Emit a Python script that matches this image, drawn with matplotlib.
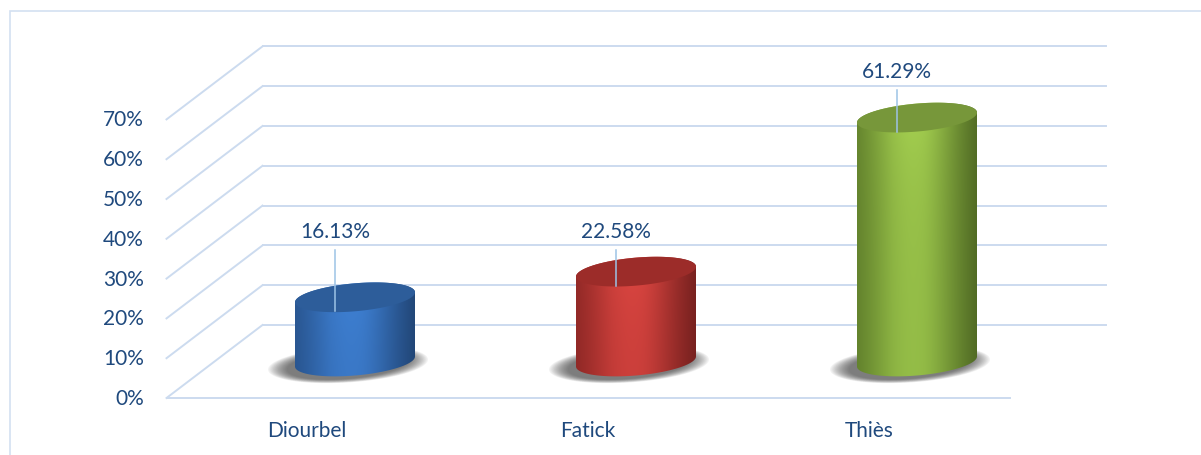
import numpy as np
import matplotlib.pyplot as plt
from matplotlib.patches import Polygon, Rectangle
from matplotlib.colors import to_rgb

plt.rcParams['font.family'] = ['Lato', 'DejaVu Sans']

categories = ['Diourbel', 'Fatick', 'Thiès']
values = [16.13, 22.58, 61.29]
value_labels = ['16.13%', '22.58%', '61.29%']
tick_values = [0, 10, 20, 30, 40, 50, 60, 70]
tick_labels = ['0%', '10%', '20%', '30%', '40%', '50%', '60%', '70%']

# shading per cylinder: (edge, highlight, top)
bar_colors = [
    ('#28548F', '#3F82D6', '#2D5D9A'),
    ('#8E2624', '#DE4742', '#9C2C29'),
    ('#5F7F2A', '#A8D452', '#77973A'),
]

text_color = '#1F497D'
grid_color = '#CCDBEF'
leader_color = '#9DC3E6'

# pixel scale of the plot: one category step and one percent
PX_CAT = 281.0
PX_PCT = 3.98
W, H = 1201, 456

# oblique depth offset of the back wall
DX = 96 / PX_CAT
DY = 73 / PX_PCT

# cylinder ellipse semi-axes and perspective tilt
EA = 60 / PX_CAT
EB = 14 / PX_PCT
ES = 5 / PX_PCT

fig = plt.figure(figsize=(W / 100, H / 100), dpi=100)
ax = fig.add_axes([0, 0, 1, 1])
ax.axis('off')

# chart area border
fig.patches.append(Rectangle((10 / W, -0.1), 1.2, (H - 12) / H + 0.1,
                             transform=fig.transFigure, fill=False,
                             edgecolor='#D3E0F1', lw=1.2))

n = len(categories)
x_left, x_right = -0.5, n - 0.5

# side wall diagonals and back wall gridlines
for v in tick_values:
    ax.plot([x_left, x_left + DX], [v, v + DY], color=grid_color, lw=1.4, zorder=1)
    ax.plot([x_left + DX, x_right + DX], [v + DY, v + DY], color=grid_color, lw=1.4, zorder=1)
# front floor edge
ax.plot([x_left, x_right], [0, 0], color=grid_color, lw=1.4, zorder=1)

for v, lab in zip(tick_values, tick_labels):
    ax.text(-163 / PX_CAT, v, lab, ha='right', va='center', fontsize=15, color=text_color)

for i, cat in enumerate(categories):
    ax.text(i, -32 / PX_PCT, cat, ha='center', va='center', fontsize=15, color=text_color)


def ellipse_pts(cx, cy, t):
    return cx + EA * np.cos(t), cy + EB * np.sin(t) + ES * np.cos(t)


for i, (val, lab) in enumerate(zip(values, value_labels)):
    cx = i + DX / 2
    base = DY / 2
    top = base + val
    edge, hi, topc = (np.array(to_rgb(c)) for c in bar_colors[i])

    # soft floor shadow
    t = np.linspace(0, 2 * np.pi, 120)
    for k in range(16):
        f = 1.0 - k / 16
        sx = cx - 7 / PX_CAT + (EA + 20 / PX_CAT * f) * np.cos(t)
        sy = base - 3 / PX_PCT + (EB + 4 / PX_PCT * f) * np.sin(t) + ES * np.cos(t)
        ax.fill(sx, sy, color='#2E2E2E', alpha=0.055, lw=0, zorder=2)

    # cylinder silhouette: front of bottom ellipse + back of top ellipse
    tb = np.linspace(np.pi, 2 * np.pi, 80)
    bx, by = ellipse_pts(cx, base, tb)
    tt = np.linspace(0, np.pi, 80)
    tx, ty = ellipse_pts(cx, top, tt)
    body = Polygon(np.column_stack([np.r_[bx, tx], np.r_[by, ty]]),
                   closed=True, fill=False, lw=0, zorder=3)
    ax.add_patch(body)

    # body shading: soft highlight near the top centre, darker rims
    y_hi, y_lo = top + EB + ES, base - EB - ES
    span_px = (y_hi - y_lo) * PX_PCT
    u = np.linspace(0, 1, 240)[None, :]
    d = np.linspace(0, span_px, 200)[:, None]
    fx = np.exp(-((u - 0.47) / 0.40) ** 2)
    gy = 0.72 + 0.28 * np.exp(-d / 70.0)
    rim = 1 - 0.22 * np.clip((u - 0.55) / 0.45, 0, 1) ** 1.5 - 0.08 * np.clip((0.3 - u) / 0.3, 0, 1)
    img = (edge[None, None, :] + (hi - edge)[None, None, :] * (fx * gy)[:, :, None]) * rim[:, :, None]
    img = np.clip(img, 0, 1)
    im = ax.imshow(img, extent=(cx - EA, cx + EA, y_lo, y_hi),
                   origin='upper', aspect='auto', interpolation='bilinear', zorder=3)
    im.set_clip_path(body)

    # top face
    te = np.linspace(0, 2 * np.pi, 160)
    ex, ey = ellipse_pts(cx, top, te)
    ax.fill(ex, ey, color=topc, lw=0, zorder=4)

    # data label with leader line
    ax_x = cx - 20 / PX_CAT
    ax_y = top - EB
    lift = [20.1, 13.8, 15.1][i]
    ax.plot([ax_x, ax_x], [ax_y, ax_y + lift - 19 / PX_PCT], color=leader_color, lw=1.1, zorder=5)
    ax.text(ax_x, ax_y + lift, lab, ha='center', va='center', fontsize=15, color=text_color, zorder=6)

ax.set_xlim(-307 / PX_CAT, (W - 307) / PX_CAT)
ax.set_ylim(-(H - 399) / PX_PCT, 399 / PX_PCT)

fig.savefig('out.png', dpi=100)
